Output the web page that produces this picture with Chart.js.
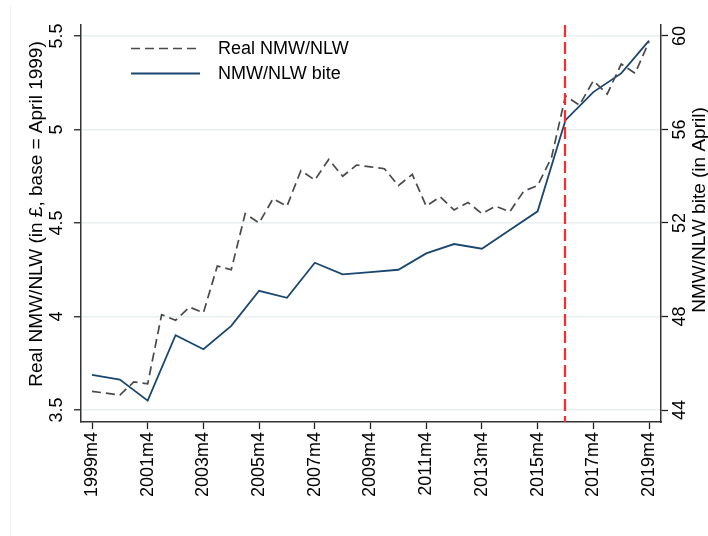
<!DOCTYPE html>
<html>
<head>
<meta charset="utf-8">
<script src="https://cdn.jsdelivr.net/npm/chart.js@4"></script>
<style>
  html, body { margin: 0; padding: 0; background: #fff; }
  canvas { display: block; }
</style>
</head>
<body>
<canvas id="nmwChart" width="708" height="536"></canvas>
<script>
// real NMW/NLW, April 1999 prices (half-yearly)
const realDates = [
  '1999m4', '1999m10', '2000m4', '2000m10', '2001m4', '2001m10', '2002m4', '2002m10',
  '2003m4', '2003m10', '2004m4', '2004m10', '2005m4', '2005m10', '2006m4', '2006m10',
  '2007m4', '2007m10', '2008m4', '2008m10', '2009m4', '2009m10', '2010m4', '2010m10',
  '2011m4', '2011m10', '2012m4', '2012m10', '2013m4', '2013m10', '2014m4', '2014m10',
  '2015m4', '2015m10', '2016m4', '2016m10', '2017m4', '2017m10', '2018m4', '2018m10',
  '2019m4'
];
const realValues = [
  3.60, 3.59, 3.58, 3.65, 3.64, 4.01, 3.98, 4.05,
  4.02, 4.27, 4.25, 4.55, 4.50, 4.63, 4.59, 4.78,
  4.73, 4.84, 4.75, 4.81, 4.80, 4.79, 4.70, 4.76,
  4.59, 4.64, 4.57, 4.61, 4.55, 4.59, 4.56, 4.67,
  4.70, 4.85, 5.18, 5.13, 5.26, 5.19, 5.35, 5.30,
  5.47
];

// bite, measured each April
const biteDates = [
  '1999m4', '2000m4', '2001m4', '2002m4', '2003m4', '2004m4', '2005m4',
  '2006m4', '2007m4', '2008m4', '2009m4', '2010m4', '2011m4', '2012m4',
  '2013m4', '2014m4', '2015m4', '2016m4', '2017m4', '2018m4', '2019m4'
];
const biteValues = [
  45.5, 45.3, 44.4, 47.2, 46.6, 47.6, 49.1,
  48.8, 50.3, 49.8, 49.9, 50.0, 50.7, 51.1,
  50.9, 51.7, 52.5, 56.4, 57.6, 58.4, 59.8
];

const xTickLabels = ['1999m4', '2001m4', '2003m4', '2005m4', '2007m4', '2009m4',
  '2011m4', '2013m4', '2015m4', '2017m4', '2019m4'];
const leftTicks = [3.5, 4, 4.5, 5, 5.5];
const rightTicks = [44, 48, 52, 56, 60];
const nlwStart = '2016m4';

const FONT = "'Liberation Sans', Arial, sans-serif";

// '2003m10' -> 2003.75
function toYear(s) {
  const p = s.split('m');
  return Number(p[0]) + (Number(p[1]) - 1) / 12;
}

const realPoints = realDates.map((d, i) => ({ x: toYear(d), y: realValues[i] }));
const bitePoints = biteDates.map((d, i) => ({ x: toYear(d), y: biteValues[i] }));

const decor = {
  id: 'decor',
  beforeDraw(chart) {
    const c = chart.ctx;
    c.save();
    c.fillStyle = '#fff';
    c.fillRect(0, 0, chart.width, chart.height);
    c.strokeStyle = '#eef1f1';
    c.lineWidth = 1;
    c.beginPath();
    c.moveTo(10.5, 6);
    c.lineTo(10.5, chart.height);
    c.stroke();
    c.restore();
  },
  afterDatasetsDraw(chart) {
    const c = chart.ctx;
    const area = chart.chartArea;
    const xs = chart.scales.x;

    // NLW introduction
    const rx = Math.round(xs.getPixelForValue(toYear(nlwStart)));
    c.save();
    c.strokeStyle = '#ff2b2b';
    c.lineWidth = 2.2;
    c.setLineDash([12, 5]);
    c.beginPath();
    c.moveTo(rx, area.top);
    c.lineTo(rx, area.bottom);
    c.stroke();
    c.restore();

    // legend
    const ds = chart.data.datasets;
    const rows = [48.5, 73.5];
    c.save();
    c.font = '18px ' + FONT;
    c.textBaseline = 'middle';
    c.fillStyle = '#000';
    ds.forEach((d, i) => {
      c.strokeStyle = d.borderColor;
      c.lineWidth = d.borderWidth;
      c.setLineDash(d.borderDash || []);
      c.beginPath();
      c.moveTo(131, rows[i]);
      c.lineTo(200, rows[i]);
      c.stroke();
      c.fillText(d.label, 218, rows[i] + 1);
    });
    c.restore();

    // axis titles
    c.save();
    c.font = '19px ' + FONT;
    c.fillStyle = '#000';
    c.textAlign = 'center';
    c.textBaseline = 'middle';
    c.translate(37, 214);
    c.rotate(-Math.PI / 2);
    c.fillText('Real NMW/NLW (in £, base = April 1999)', 0, 0);
    c.restore();

    c.save();
    c.font = '19px ' + FONT;
    c.fillStyle = '#000';
    c.textAlign = 'center';
    c.textBaseline = 'middle';
    c.translate(700, 210);
    c.rotate(-Math.PI / 2);
    c.fillText('NMW/NLW bite (in April)', 0, 0);
    c.restore();
  }
};

const ctx = document.getElementById('nmwChart').getContext('2d');
const nmwChart = new Chart(ctx, {
  type: 'line',
  data: {
    datasets: [{
      label: 'Real NMW/NLW',
      data: realPoints,
      yAxisID: 'y',
      borderColor: '#4a4a4a',
      borderWidth: 1.7,
      borderDash: [9, 5],
      pointRadius: 0,
      tension: 0,
      fill: false
    }, {
      label: 'NMW/NLW bite',
      data: bitePoints,
      yAxisID: 'y1',
      borderColor: '#1a476f',
      borderWidth: 1.8,
      pointRadius: 0,
      tension: 0,
      fill: false
    }]
  },
  options: {
    responsive: false,
    devicePixelRatio: 1,
    animation: false,
    layout: { padding: { top: 25, left: 0, right: 0, bottom: 0 } },
    plugins: {
      legend: { display: false },
      tooltip: { enabled: false }
    },
    scales: {
      x: {
        type: 'linear',
        min: 1998.855,
        max: 2019.68,
        afterBuildTicks: (s) => { s.ticks = xTickLabels.map(l => ({ value: toYear(l) })); },
        afterFit: (s) => { s.height = 114; },
        ticks: {
          minRotation: 90,
          maxRotation: 90,
          padding: 3,
          color: '#000',
          font: { family: FONT, size: 18 },
          callback: (v, i) => xTickLabels[i]
        },
        grid: { drawOnChartArea: false, tickLength: 7, tickColor: '#222', tickWidth: 1.3 },
        border: { color: '#333', width: 1.5 }
      },
      y: {
        position: 'left',
        min: 3.4358,
        max: 5.5588,
        afterBuildTicks: (s) => { s.ticks = leftTicks.map(v => ({ value: v })); },
        afterFit: (s) => { s.width = 81; },
        ticks: {
          minRotation: 90,
          maxRotation: 90,
          crossAlign: 'center',
          padding: 4,
          color: '#000',
          font: { family: FONT, size: 18 },
          callback: (v) => String(v)
        },
        grid: { color: '#e8eff0', lineWidth: 1.5, tickLength: 7, tickColor: '#222', tickWidth: 1.3 },
        border: { color: '#333', width: 1.5 }
      },
      y1: {
        position: 'right',
        min: 43.487,
        max: 60.47,
        afterBuildTicks: (s) => { s.ticks = rightTicks.map(v => ({ value: v })); },
        afterFit: (s) => { s.width = 47; },
        ticks: {
          minRotation: 90,
          maxRotation: 90,
          crossAlign: 'center',
          padding: 2,
          color: '#000',
          font: { family: FONT, size: 18 },
          callback: (v) => String(v)
        },
        grid: { drawOnChartArea: false, tickLength: 7, tickColor: '#222', tickWidth: 1.3 },
        border: { color: '#333', width: 1.5 }
      }
    }
  },
  plugins: [decor]
});
</script>
</body>
</html>
